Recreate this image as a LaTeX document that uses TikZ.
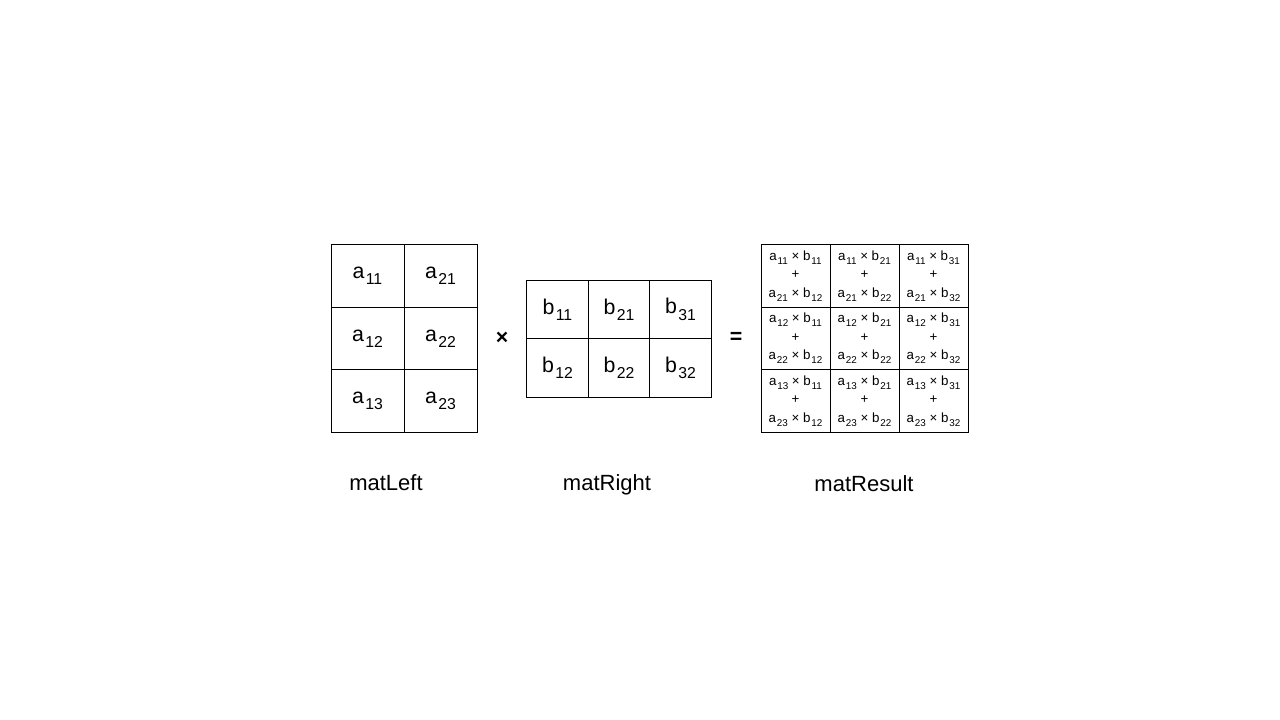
\documentclass[tikz,border=0pt]{standalone}
\usepackage{fontspec}
\setmainfont{Liberation Sans}
\newcommand{\ix}[1]{\kern0.06em\raisebox{-0.3em}{\scalebox{0.74}{#1}}}
\newcommand{\prodcell}[4]{a\ix{#1} × b\ix{#2}\\+\\a\ix{#3} × b\ix{#4}}

\tikzset{
  lcell/.style={draw, line width=0.75pt, inner sep=0pt, minimum width=54.75pt, minimum height=46.75pt, font=\fontsize{16}{19}\selectfont},
  rcell/.style={draw, line width=0.75pt, inner sep=0pt, minimum width=46pt, minimum height=43.9pt, font=\fontsize{16}{19}\selectfont},
  pcell/.style={draw, line width=0.75pt, inner sep=0pt, minimum width=51.75pt, minimum height=46.75pt, align=center, font=\fontsize{10}{14}\selectfont},
  oplabel/.style={inner sep=0.75pt, font=\fontsize{16}{19}\selectfont\bfseries},
  namelabel/.style={inner sep=0.75pt, anchor=base, font=\fontsize{16.5}{20}\selectfont}
}

\begin{document}
\begin{tikzpicture}[x=0.75pt,y=0.75pt,yscale=-1,xscale=1]
\useasboundingbox (0,0) rectangle (1280,720);

%matLeft
    \node (l11) at (367.5,276) [lcell] {a\ix{11}};
    \node (l21) at (440.5,276) [lcell] {a\ix{21}};
    \node (l12) at (367.5,338.5) [lcell] {a\ix{12}};
    \node (l22) at (440.5,338.5) [lcell] {a\ix{22}};
    \node (l13) at (367.5,401) [lcell] {a\ix{13}};
    \node (l23) at (440.5,401) [lcell] {a\ix{23}};

%matRight
    \node (r11) at (557.5,309.5) [rcell] {b\ix{11}};
    \node (r21) at (619,309.5) [rcell] {b\ix{21}};
    \node (r31) at (680.5,309.5) [rcell] {b\ix{31}};
    \node (r12) at (557.5,368) [rcell] {b\ix{12}};
    \node (r22) at (619,368) [rcell] {b\ix{22}};
    \node (r32) at (680.5,368) [rcell] {b\ix{32}};

%matResult
    \node (p11) at (795.5,276) [pcell] {\prodcell{11}{11}{21}{12}};
    \node (p21) at (864.5,276) [pcell] {\prodcell{11}{21}{21}{22}};
    \node (p31) at (933.5,276) [pcell] {\prodcell{11}{31}{21}{32}};
    \node (p12) at (795.5,338.5) [pcell] {\prodcell{12}{11}{22}{12}};
    \node (p22) at (864.5,338.5) [pcell] {\prodcell{12}{21}{22}{22}};
    \node (p32) at (933.5,338.5) [pcell] {\prodcell{12}{31}{22}{32}};
    \node (p13) at (795.5,401) [pcell] {\prodcell{13}{11}{23}{12}};
    \node (p23) at (864.5,401) [pcell] {\prodcell{13}{21}{23}{22}};
    \node (p33) at (933.5,401) [pcell] {\prodcell{13}{31}{23}{32}};

% Operators
    \node (times) at (502,338) [oplabel] {×};
    \node (equals) at (736,338) [oplabel] {=};

% Text Node
    \node (nameLeft) at (386,490) [namelabel] {matLeft};
    \node (nameRight) at (607,490) [namelabel] {matRight};
    \node (nameResult) at (864,491) [namelabel] {matResult};

\end{tikzpicture}
\end{document}
